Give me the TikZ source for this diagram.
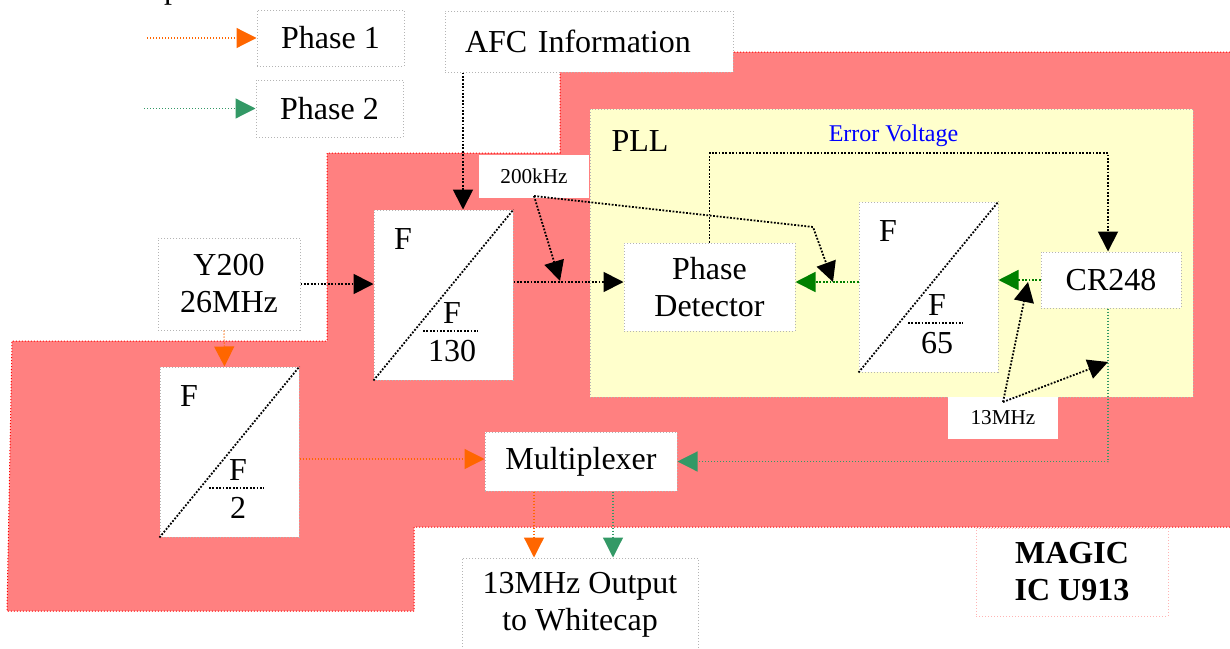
\documentclass[tikz,border=0pt]{standalone}
\usepackage{fontspec}
\setmainfont{Liberation Serif}
\usetikzlibrary{arrows.meta,calc}

\definecolor{icred}{HTML}{FF8080}
\definecolor{pllyellow}{HTML}{FFFFCC}
\definecolor{ph1col}{HTML}{FF6600}
\definecolor{ph2col}{HTML}{339966}
\definecolor{loopgreen}{HTML}{008000}
\definecolor{boxgray}{HTML}{B4B4B4}
\definecolor{tagpink}{HTML}{FFB4B4}

\newcommand\lgtxt{\fontsize{16}{18.5}\selectfont}
\newcommand\smtxt{\fontsize{10.6}{12}\selectfont}
\newcommand\evtxt{\fontsize{12}{14}\selectfont}

\tikzset{
  dotln/.style={line width=0.9pt, dash pattern=on 0.9pt off 0.8pt},
  thindot/.style={line width=0.5pt, dash pattern=on 0.5pt off 1pt},
  colln/.style={line width=0.6pt, dash pattern=on 0.6pt off 0.9pt},
  tip/.style={-{Triangle[length=10pt,width=10pt]}},
  boxb/.style={draw=boxgray, thindot, fill=white, inner sep=0pt, align=center, font=\lgtxt},
  fblk/.style={boxb, minimum width=69.5pt, minimum height=85pt},
  tag/.style={fill=white, inner sep=0pt, font=\smtxt},
  lbl/.style={font=\lgtxt, inner sep=0pt},
  blk/.style={dotln, draw=black, tip},
  ph1ln/.style={colln, draw=ph1col, tip},
  ph2ln/.style={colln, draw=ph2col, tip},
  loopln/.style={dotln, draw=loopgreen, tip},
}

% divider block: name, left edge, top edge, divisor
\newcommand\divblock[4]{%
  \node[fblk] (#1) at ({#2+69.5},{#3+85}) {};
  \draw[dotln] (#1.south west) -- (#1.north east);
  \node[lbl] (#1-in) at ({#2+29},{#3+29}) {F};
  \node[lbl] (#1-num) at ({#2+78},{#3+103}) {F};
  \draw[dotln] ({#2+49},{#3+121}) -- ({#2+104},{#3+121});
  \node[lbl] (#1-den) at ({#2+78},{#3+141}) {#4};
}

\begin{document}
\begin{tikzpicture}[x=0.5pt,y=-0.5pt]
\useasboundingbox (0,0) rectangle (1230,648);

% IC outline
\path[fill=icred, draw=red, thindot]
  (560,52) -- (1232,52) -- (1232,527) -- (414,527) -- (414,611)
  -- (7,611) -- (12,341) -- (327,341) -- (327,153) -- (560,153) -- cycle;

% PLL area
\path[fill=pllyellow, draw=boxgray, thindot] (590,109) rectangle (1193,397);
\node[lbl] (pll) at (640,141) {PLL};
\node[font=\evtxt, text=blue, inner sep=0pt] (evlbl) at (893.5,136) {Error Voltage};

% heading running off the top edge
\node[font=\lgtxt, anchor=base, inner sep=0pt] (head) at (172,-2) {p};

% legend
\node[boxb, minimum width=73.5pt, minimum height=28pt] (ph1) at (330.5,38) {Phase 1};
\node[boxb, minimum width=73.5pt, minimum height=28.5pt] (ph2) at (329.5,108.5) {Phase 2};
\coordinate (l1) at (147,38);
\coordinate (l2) at (144,108.5);
\draw[ph1ln] (l1) -- (ph1.west);
\draw[ph2ln] (l2) -- (ph2.west);

% blocks
\node[boxb, inner xsep=10pt, text width=124pt, align=left, minimum height=30.5pt] (afc) at (589,41.5) {AFC Information};
\node[boxb, minimum width=71pt, minimum height=46pt] (y200) at (229,284) {Y200\\26MHz};
\node[boxb, minimum width=85.5pt, minimum height=44pt] (pd) at (709.5,287) {Phase\\Detector};
\node[boxb, minimum width=70pt, minimum height=28pt] (cr) at (1111,280) {CR248};
\node[boxb, minimum width=96pt, minimum height=29.5pt] (mux) at (581,461.5) {Multiplexer};
\node[boxb, minimum width=118pt, minimum height=47pt] (out) at (580,605) {13MHz Output\\to Whitecap};
\node[boxb, draw=tagpink, minimum width=96pt, minimum height=44pt, font=\lgtxt\bfseries] (magic) at (1072,572) {MAGIC\\IC U913};

\divblock{f130}{374}{210}{130}
\divblock{f65}{859}{202}{65}
\divblock{f2}{160}{367}{2}

\node[tag, minimum width=55pt, minimum height=21.5pt] (k200) at (534,176.5) {200kHz};
\node[tag, minimum width=55pt, minimum height=21pt] (m13) at (1003,418) {13MHz};

% reference points
\coordinate (sigA) at (0,282);
\coordinate (sigB) at (0,459);
\coordinate (afcin) at (463,0);
\coordinate (ev) at (1108,153);
\coordinate (k200o) at (534,196);
\coordinate (k200a) at (560,281);
\coordinate (k200b) at (813,227);
\coordinate (k200c) at (833,282);
\coordinate (m13o) at (1003,402);
\coordinate (m13a) at (1028,282);
\coordinate (m13b) at (1108,362);
\coordinate (outA) at (534,0);
\coordinate (outB) at (613,0);

% main signal path
\draw[blk] (afcin |- afc.south) -- (afcin |- f130.north);
\draw[blk] (y200.east) -- (y200.east -| f130.west);
\draw[blk] (f130.east |- sigA) -- (pd.west |- sigA);
\draw[blk] (pd.north) |- (ev) -- (ev |- cr.north);
\draw[blk] (k200o) -- (k200a);
\draw[blk] (k200o) -- (k200b) -- (k200c);
\draw[blk] (m13o) -- (m13a);
\draw[blk] (m13o) -- (m13b);

% loop feedback
\draw[loopln] (cr.west) -- (cr.west -| f65.east);
\draw[loopln] (f65.west |- sigA) -- (pd.east |- sigA);

% phase 1 path
\draw[ph1ln] ($(y200.south)+(-5,0)$) -- ($(f2.north)+(-5,0)$);
\draw[ph1ln] (f2.east |- sigB) -- (mux.west |- sigB);
\draw[ph1ln] (outA |- mux.south) -- (outA |- out.north);

% phase 2 path
\draw[ph2ln] (ev |- cr.south) |- (mux.east);
\draw[ph2ln] (outB |- mux.south) -- (outB |- out.north);
\end{tikzpicture}
\end{document}
